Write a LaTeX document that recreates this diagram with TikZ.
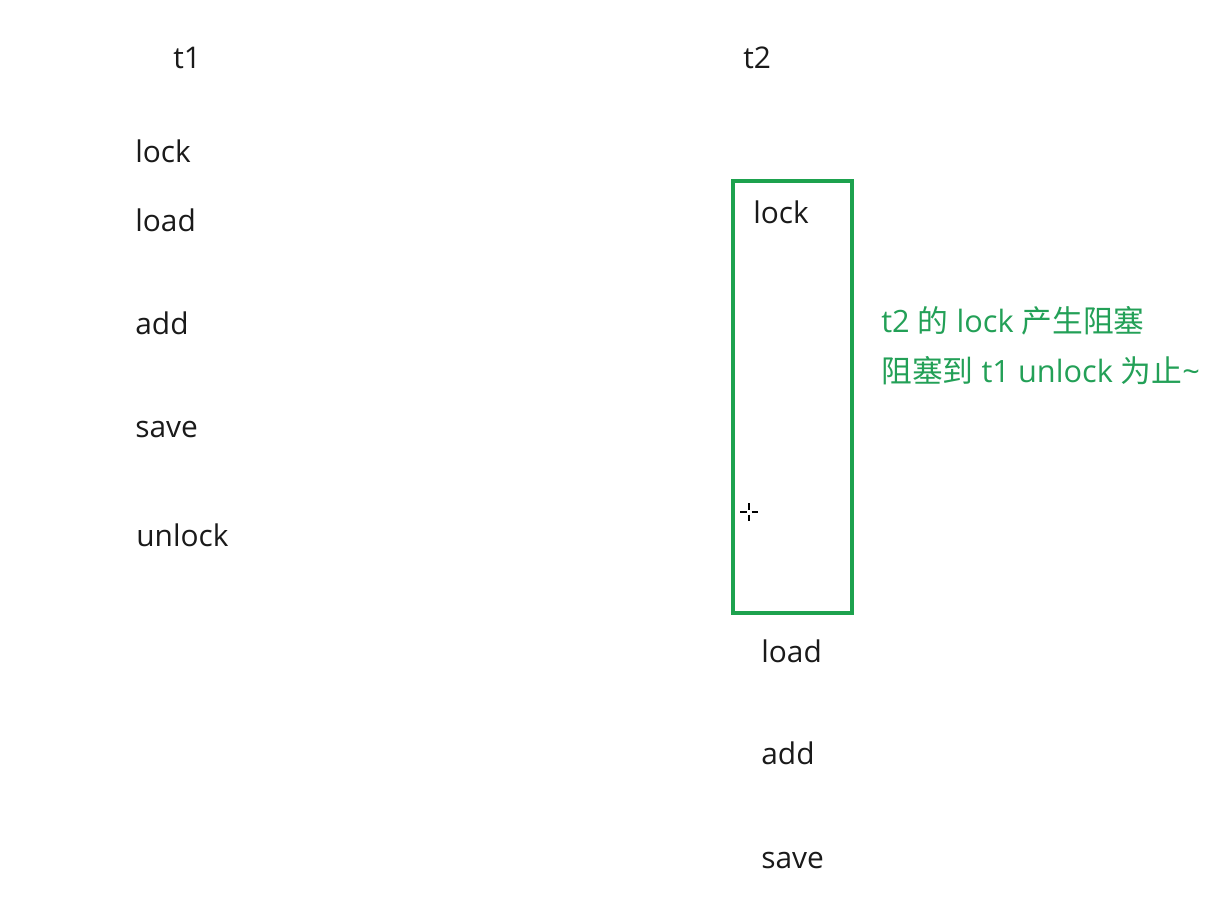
\documentclass[tikz,border=0pt]{standalone}
\usepackage{fontspec}
\setmainfont{Open Sans}
\newfontfamily\cjk{Noto Sans CJK SC}
\usepackage{xcolor}
\definecolor{jet}{HTML}{1A1A1A}
\definecolor{block-green}{HTML}{1DA24E}
\definecolor{note-green}{HTML}{23A057}

\begin{document}
\begin{tikzpicture}[every node/.style={font=\fontsize{17}{20}\selectfont, inner sep=0pt, anchor=west, color=jet}]
  \useasboundingbox (0,0) rectangle (24.38,-18.04);
  % thread t1
  \node (t1) at (3.46,-1.16) {t1};
  \node (t1lock) at (2.70,-3.02) {lock};
  \node (t1load) at (2.70,-4.40) {load};
  \node (t1add) at (2.70,-6.46) {add};
  \node (t1save) at (2.70,-8.60) {save};
  \node (t1unlock) at (2.72,-10.70) {unlock};
  % thread t2
  \node (t2) at (14.86,-1.16) {t2};
  \draw[line width=2.3pt, color=block-green] (14.66,-3.62) rectangle (17.04,-12.26);
  \node (t2lock) at (15.06,-4.24) {lock};
  \node (t2load) at (15.22,-13.02) {load};
  \node (t2add) at (15.22,-15.06) {add};
  \node (t2save) at (15.22,-17.20) {save};
  % note
  \node[color=note-green, font=\fontsize{17.5}{20}\selectfont] (note1) at (17.62,-6.42) {t2 {\cjk 的} lock {\cjk 产生阻塞}};
  \node[color=note-green, font=\fontsize{17.5}{20}\selectfont] (note2) at (17.62,-7.42) {{\cjk 阻塞到} t1 unlock {\cjk 为止}\textasciitilde};
  % cursor
  \draw[line width=0.7pt] (14.80,-10.24) -- (14.93,-10.24) (15.03,-10.24) -- (15.16,-10.24);
  \draw[line width=0.7pt] (14.98,-10.06) -- (14.98,-10.19) (14.98,-10.29) -- (14.98,-10.42);
\end{tikzpicture}
\end{document}
